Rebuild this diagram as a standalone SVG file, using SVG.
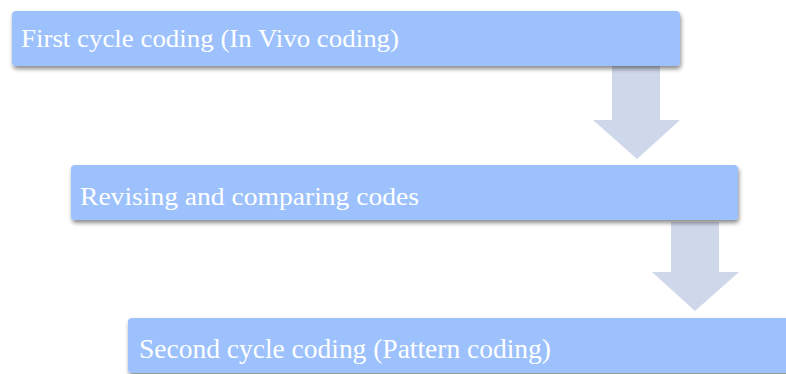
<svg xmlns="http://www.w3.org/2000/svg" width="786" height="374" viewBox="0 0 786 374">
  <defs>
    <filter id="shadow" x="-5%" y="-20%" width="110%" height="150%">
      <feDropShadow dx="1" dy="3" stdDeviation="2" flood-color="#000" flood-opacity="0.45"/>
    </filter>
  </defs>
  <style>
    .box { fill: #9cc1fd; filter: url(#shadow); }
    .label { fill: #ffffff; font-family: "Liberation Serif", "DejaVu Serif", serif; font-size: 26px; }
    .condensed { font-size: 28px; }
    .arrow { fill: #cfd7ea; }
  </style>
  <rect width="786" height="374" fill="#ffffff"/>
  <g id="connectors">
    <path class="arrow" d="M612,66 H660 V120 H680 L637,159 L593,120 H612 Z"/>
    <path class="arrow" d="M671,222 H719 V272 H739 L695,311 L652,272 H671 Z"/>
  </g>
  <g id="node-first-cycle">
    <rect class="box" x="12" y="11" width="668" height="55" rx="4"/>
    <text class="label" x="21" y="47" textLength="378" lengthAdjust="spacingAndGlyphs">First cycle coding (In Vivo coding)</text>
  </g>
  <g id="node-revising">
    <rect class="box" x="71" y="165" width="667" height="55" rx="4"/>
    <text class="label" x="80" y="205" textLength="339" lengthAdjust="spacingAndGlyphs">Revising and comparing codes</text>
  </g>
  <g id="node-second-cycle">
    <rect class="box" x="128" y="318" width="668" height="55" rx="4"/>
    <text class="label condensed" x="139" y="358" textLength="412" lengthAdjust="spacingAndGlyphs">Second cycle coding (Pattern coding)</text>
  </g>
</svg>
